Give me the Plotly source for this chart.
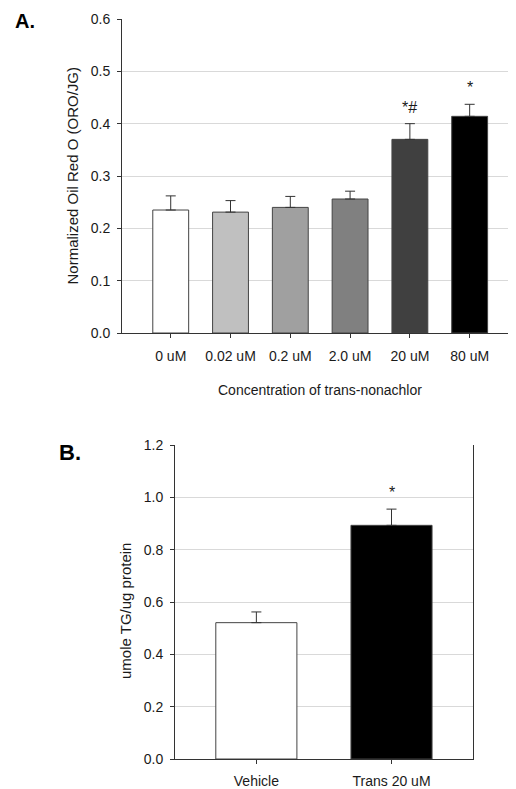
import plotly.graph_objects as go

OFF = 8  # page body margin in the browser
W, H = 516 - OFF, 789 - OFF

# ---- Data ----
conc_labels = ["0 uM", "0.02 uM", "0.2 uM", "2.0 uM", "20 uM", "80 uM"]
oro_values = [0.235, 0.231, 0.240, 0.256, 0.370, 0.414]
oro_errors = [0.027, 0.022, 0.021, 0.015, 0.030, 0.023]
oro_marks = ["", "", "", "", "*#", "*"]

tg_labels = ["Vehicle", "Trans 20 uM"]
tg_values = [0.521, 0.893]
tg_errors = [0.041, 0.062]
tg_marks = ["", "*"]

# ---- Styles ----
colors_a = ["#ffffff", "#c0c0c0", "#a0a0a0", "#808080", "#404040", "#000000"]
colors_b = ["#ffffff", "#000000"]
FONT = "Liberation Sans, Arial, sans-serif"
TXT = "#1a1a1a"
GRID = "#d9d9d9"
AX = "#333333"


def px_x(p):
    return (p - OFF) / W


def px_y(p):
    return 1 - (p - OFF) / H


fig = go.Figure()

fig.add_trace(go.Bar(
    x=conc_labels, y=oro_values, width=0.6,
    marker=dict(color=colors_a, line=dict(color="#444444", width=1)),
    error_y=dict(type="data", array=oro_errors, arrayminus=[0] * len(oro_errors),
                 symmetric=False, color=AX, thickness=1, width=5),
    xaxis="x", yaxis="y", showlegend=False, hoverinfo="skip",
))

fig.add_trace(go.Bar(
    x=tg_labels, y=tg_values, width=0.6,
    marker=dict(color=colors_b, line=dict(color="#444444", width=1)),
    error_y=dict(type="data", array=tg_errors, arrayminus=[0] * len(tg_errors),
                 symmetric=False, color=AX, thickness=1, width=5),
    xaxis="x2", yaxis="y2", showlegend=False, hoverinfo="skip",
))

# significance marks
for lab, v, e, m in zip(conc_labels, oro_values, oro_errors, oro_marks):
    if m:
        fig.add_annotation(x=lab, y=v + e, xref="x", yref="y", text=m,
                           showarrow=False, xanchor="center", yanchor="bottom", yshift=6,
                           font=dict(family=FONT, size=16, color=TXT))
for lab, v, e, m in zip(tg_labels, tg_values, tg_errors, tg_marks):
    if m:
        fig.add_annotation(x=lab, y=v + e, xref="x2", yref="y2", text=m,
                           showarrow=False, xanchor="center", yanchor="bottom", yshift=6,
                           font=dict(family=FONT, size=16, color=TXT))

axis_common = dict(
    showline=True, linecolor=AX, linewidth=1,
    ticks="outside", ticklen=4, tickcolor=AX, tickwidth=1,
    tickfont=dict(family=FONT, size=14, color=TXT),
    zeroline=False, automargin=False,
)

fig.update_layout(
    width=W, height=H,
    margin=dict(l=0, r=0, t=0, b=0, pad=0, autoexpand=False),
    paper_bgcolor="white", plot_bgcolor="white",
    bargap=0.4,
    xaxis=dict(domain=[px_x(122), px_x(516)], range=[-0.815, 5.775],
               showgrid=False, anchor="y", ticklabelstandoff=6, **axis_common),
    yaxis=dict(domain=[px_y(333), px_y(19)], range=[0, 0.6], dtick=0.1,
               tickformat=".1f", showgrid=True, gridcolor=GRID, gridwidth=1,
               anchor="x", ticklabelstandoff=4, **axis_common),
    xaxis2=dict(domain=[px_x(175), px_x(473)], range=[-0.602, 1.603],
                showgrid=False, anchor="y2", ticklabelstandoff=5, **axis_common),
    yaxis2=dict(domain=[px_y(759), px_y(445)], range=[0, 1.2], dtick=0.2,
                tickformat=".1f", showgrid=True, gridcolor=GRID, gridwidth=1,
                mirror=True, anchor="x2", ticklabelstandoff=4, **axis_common),
)

# panel letters and titles
def label(x, y, text, size, angle=0, color=TXT, yanchor="middle"):
    fig.add_annotation(x=px_x(x), y=px_y(y), xref="paper", yref="paper",
                       text=text, textangle=angle, showarrow=False,
                       xanchor="center", yanchor=yanchor,
                       font=dict(family=FONT, size=size, color=color))


label(25, OFF, "<b>A.</b>", 20, color="#000", yanchor="top")
label(70, 452, "<b>B.</b>", 22, color="#000")
label(71.5, 176, "Normalized Oil Red O (ORO/JG)", 15, angle=-90)
label(320, 390, "Concentration of trans-nonachlor", 14)
label(125, 611, "umole TG/ug protein", 15, angle=-90)

fig.write_html("out.html")
